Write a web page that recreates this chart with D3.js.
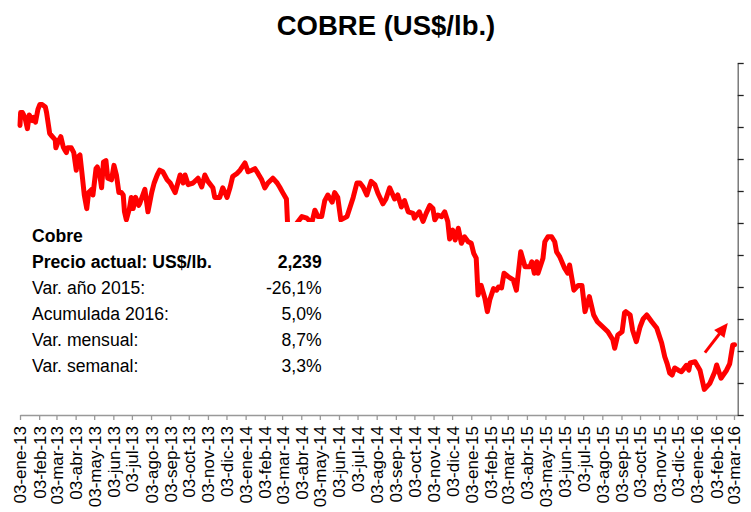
<!DOCTYPE html>
<html lang="es">

<head>
    <meta charset="UTF-8" />
    <title>Cobre (US$/lb.)</title>
    <script src="https://d3js.org/d3.v7.min.js"></script>
    <style>
        body { margin: 0; background: #fff; }
        svg { display: block; font-family: "Liberation Sans", Arial, sans-serif; }
    </style>
</head>

<body>
    <svg id="cobre-chart"></svg>
</body>

<script>
    // precio del cobre, US$/lb.
    var fechas = [
        "2013-01-03", "2013-01-04", "2013-01-07", "2013-01-11", "2013-01-15", "2013-01-18", "2013-01-23", "2013-01-25", "2013-01-28",
        "2013-02-01", "2013-02-04", "2013-02-08", "2013-02-13", "2013-02-15", "2013-02-20", "2013-02-22",
        "2013-03-01", "2013-03-02", "2013-03-06", "2013-03-10", "2013-03-14", "2013-03-16", "2013-03-19", "2013-03-21", "2013-03-27", "2013-03-31",
        "2013-04-04", "2013-04-06", "2013-04-10", "2013-04-13", "2013-04-17", "2013-04-21", "2013-04-24", "2013-04-29",
        "2013-05-01", "2013-05-06", "2013-05-08", "2013-05-12", "2013-05-15", "2013-05-18", "2013-05-22", "2013-05-25", "2013-05-31",
        "2013-06-04", "2013-06-08", "2013-06-12", "2013-06-16", "2013-06-19", "2013-06-21", "2013-06-24", "2013-06-29",
        "2013-07-02", "2013-07-05", "2013-07-09", "2013-07-14", "2013-07-16", "2013-07-24", "2013-07-29",
        "2013-08-04", "2013-08-08", "2013-08-13", "2013-08-17", "2013-08-22", "2013-08-29",
        "2013-09-03", "2013-09-11", "2013-09-19", "2013-09-24", "2013-09-27",
        "2013-10-02", "2013-10-10", "2013-10-18", "2013-10-24", "2013-10-29",
        "2013-11-03", "2013-11-11", "2013-11-14", "2013-11-22", "2013-11-27",
        "2013-12-04", "2013-12-09", "2013-12-13", "2013-12-20", "2013-12-25",
        "2014-01-02", "2014-01-07", "2014-01-13", "2014-01-18", "2014-01-23", "2014-01-29",
        "2014-02-03", "2014-02-08", "2014-02-16", "2014-02-23", "2014-02-27",
        "2014-03-04", "2014-03-10", "2014-03-12", "2014-03-17", "2014-03-20", "2014-03-25", "2014-03-27",
        "2014-04-04", "2014-04-12", "2014-04-20", "2014-04-25", "2014-04-30",
        "2014-05-06", "2014-05-11", "2014-05-16", "2014-05-23", "2014-05-27",
        "2014-06-01", "2014-06-06", "2014-06-16", "2014-06-21", "2014-06-26",
        "2014-07-02", "2014-07-07", "2014-07-12", "2014-07-18", "2014-07-25", "2014-07-31",
        "2014-08-05", "2014-08-13", "2014-08-18", "2014-08-24",
        "2014-09-01", "2014-09-06", "2014-09-12", "2014-09-17", "2014-09-23",
        "2014-10-01", "2014-10-03", "2014-10-11", "2014-10-17", "2014-10-22", "2014-10-28",
        "2014-11-02", "2014-11-05", "2014-11-10", "2014-11-16", "2014-11-21", "2014-11-26", "2014-11-29",
        "2014-12-04", "2014-12-08", "2014-12-13", "2014-12-18", "2014-12-23", "2014-12-29",
        "2015-01-03", "2015-01-07", "2015-01-11", "2015-01-14", "2015-01-19", "2015-01-25", "2015-01-29",
        "2015-02-02", "2015-02-08", "2015-02-13", "2015-02-16", "2015-02-21", "2015-02-25",
        "2015-03-04", "2015-03-12", "2015-03-17", "2015-03-24", "2015-03-31",
        "2015-04-08", "2015-04-11", "2015-04-15", "2015-04-19", "2015-04-21", "2015-04-29",
        "2015-05-02", "2015-05-07", "2015-05-13", "2015-05-18", "2015-05-21", "2015-05-26",
        "2015-06-03", "2015-06-08", "2015-06-11", "2015-06-18", "2015-06-25",
        "2015-07-01", "2015-07-06", "2015-07-13", "2015-07-20", "2015-07-26",
        "2015-08-04", "2015-08-12", "2015-08-20", "2015-08-23", "2015-08-28",
        "2015-09-04", "2015-09-08", "2015-09-10", "2015-09-17", "2015-09-21", "2015-09-27",
        "2015-10-03", "2015-10-08", "2015-10-14", "2015-10-22", "2015-10-30",
        "2015-11-07", "2015-11-12", "2015-11-16", "2015-11-20", "2015-11-24", "2015-11-28",
        "2015-12-04", "2015-12-09", "2015-12-13", "2015-12-17", "2015-12-21", "2015-12-23", "2015-12-31",
        "2016-01-08", "2016-01-15", "2016-01-24",
        "2016-02-01", "2016-02-04", "2016-02-11", "2016-02-20", "2016-02-25",
        "2016-03-01", "2016-03-04"
    ];

    var precios = [
        3.61, 3.69, 3.69, 3.66, 3.59, 3.675, 3.64, 3.66, 3.63,
        3.71, 3.74, 3.74, 3.725, 3.69, 3.56, 3.55,
        3.52, 3.47, 3.51, 3.54, 3.475, 3.46, 3.44, 3.47, 3.47, 3.44,
        3.33, 3.41, 3.425, 3.32, 3.175, 3.09, 3.19, 3.21,
        3.175, 3.34, 3.35, 3.30, 3.22, 3.38, 3.39, 3.28, 3.27,
        3.36, 3.30, 3.19, 3.19, 3.175, 3.07, 3.02, 3.09,
        3.16, 3.09, 3.16, 3.11, 3.125, 3.21, 3.07,
        3.19, 3.25, 3.30, 3.33, 3.32, 3.27,
        3.25, 3.19, 3.30, 3.25, 3.30,
        3.24, 3.25, 3.28, 3.225, 3.30,
        3.26, 3.22, 3.16, 3.16, 3.22,
        3.16, 3.225, 3.29, 3.31, 3.33,
        3.375, 3.32, 3.33, 3.34, 3.31, 3.27,
        3.22, 3.25, 3.28, 3.25, 3.225,
        3.19, 3.15, 2.98, 2.93, 2.92, 2.97, 3.00,
        3.04, 3.03, 3.00, 3.08, 3.04,
        3.04, 3.14, 3.175, 3.13, 3.19,
        3.16, 3.02, 3.04, 3.10, 3.16,
        3.25, 3.25, 3.225, 3.175, 3.26, 3.24,
        3.186, 3.12, 3.15, 3.22,
        3.15, 3.175, 3.10, 3.14, 3.07,
        3.06, 3.03, 3.07, 3.01, 3.06, 3.11,
        3.09, 3.02, 3.05, 3.04, 3.07, 3.01, 2.90,
        2.956, 2.894, 2.967, 2.873, 2.914, 2.883,
        2.873, 2.81, 2.78, 2.55, 2.61, 2.53, 2.446,
        2.52, 2.59, 2.58, 2.60, 2.594, 2.686,
        2.664, 2.644, 2.58, 2.82, 2.727,
        2.727, 2.758, 2.686, 2.758, 2.686, 2.78,
        2.883, 2.914, 2.914, 2.883, 2.82, 2.79,
        2.717, 2.686, 2.7375, 2.58, 2.61,
        2.61, 2.446, 2.54, 2.425, 2.383,
        2.35, 2.32, 2.27, 2.217, 2.30,
        2.32, 2.44, 2.446, 2.425, 2.33, 2.258,
        2.35, 2.40, 2.425, 2.383, 2.344,
        2.25, 2.164, 2.12, 2.0625, 2.05, 2.094,
        2.08, 2.07, 2.09, 2.11, 2.08, 2.125, 2.133,
        2.08, 1.96, 1.998,
        2.07, 2.1125, 2.03, 2.08, 2.12,
        2.2375, 2.239
    ];

    var mesesCortos = ["ene", "feb", "mar", "abr", "may", "jun", "jul", "ago", "sep", "oct", "nov", "dic"];
    var primerMes = "2013-01-03";
    var finEje = "2016-03-09";
    var yTicks = [1.8, 2.0, 2.2, 2.4, 2.6, 2.8, 3.0, 3.2, 3.4, 3.6, 3.8, 4.0];

    var resumenEtiquetas = ["Cobre", "Precio actual: US$/lb.", "Var. año 2015:", "Acumulada 2016:", "Var. mensual:", "Var. semanal:"];
    var resumenValores = ["", "2,239", "-26,1%", "5,0%", "8,7%", "3,3%"];
    var resumenNegrita = [true, true, false, false, false, false];

    var width = 751;
    var height = 512;
    var margin = { top: 63, right: 13.3, bottom: 97, left: 20 };

    var parse = d3.timeParse("%Y-%m-%d");
    var data = fechas.map((f, i) => ({ date: parse(f), v: precios[i] }));

    var svg = d3.select("#cobre-chart")
        .attr("width", width)
        .attr("height", height);

    var xScale = d3.scaleTime()
        .domain([parse(primerMes), parse(finEje)])
        .range([margin.left, width - margin.right]);

    var yScale = d3.scaleLinear()
        .domain([1.8, 4.0])
        .range([height - margin.bottom, margin.top]);

    // titulo
    svg.append("text")
        .attr("x", 386)
        .attr("y", 35)
        .attr("text-anchor", "middle")
        .style("font-size", "27.5px")
        .style("font-weight", "bold")
        .text("COBRE (US$/lb.)");

    // serie
    var line = d3.line()
        .x((d) => xScale(d.date))
        .y((d) => yScale(d.v));

    svg.append("path")
        .datum(data)
        .attr("d", line)
        .attr("fill", "none")
        .attr("stroke", "#ff0000")
        .attr("stroke-width", 5)
        .attr("stroke-linejoin", "round")
        .attr("stroke-linecap", "round");

    // recuadro de resumen (fondo blanco sobre la serie)
    svg.append("rect")
        .attr("x", 25)
        .attr("y", 222)
        .attr("width", 320)
        .attr("height", 160)
        .attr("fill", "#fff");

    var resumen = svg.append("g").style("font-size", "17.6px");
    resumenEtiquetas.forEach((t, i) => {
        resumen.append("text")
            .attr("x", 32)
            .attr("y", 242 + i * 26)
            .style("font-weight", resumenNegrita[i] ? "bold" : "normal")
            .text(t);
        resumen.append("text")
            .attr("x", 321.7)
            .attr("y", 242 + i * 26)
            .attr("text-anchor", "end")
            .style("font-weight", resumenNegrita[i] ? "bold" : "normal")
            .text(resumenValores[i]);
    });

    // flecha
    var p0 = [xScale(parse("2016-01-16")), yScale(2.19)];
    var p1 = [xScale(parse("2016-02-22")), yScale(2.375)];
    var ang = Math.atan2(p1[1] - p0[1], p1[0] - p0[0]);
    var hl = 14, hw = 6.5;
    var base = [p1[0] - hl * Math.cos(ang), p1[1] - hl * Math.sin(ang)];
    svg.append("line")
        .attr("x1", p0[0]).attr("y1", p0[1])
        .attr("x2", base[0] + 2 * Math.cos(ang)).attr("y2", base[1] + 2 * Math.sin(ang))
        .attr("stroke", "#ff0000")
        .attr("stroke-width", 3);
    svg.append("polygon")
        .attr("points", [
            p1,
            [base[0] + hw * Math.sin(ang), base[1] - hw * Math.cos(ang)],
            [base[0] - hw * Math.sin(ang), base[1] + hw * Math.cos(ang)]
        ].map((p) => p.join(",")).join(" "))
        .attr("fill", "#ff0000");

    // eje x
    var tickDates = d3.timeMonth.range(new Date(2013, 0, 1), new Date(2016, 3, 1))
        .map((d) => d3.timeDay.offset(d, 2));
    var fmtY = d3.timeFormat("%y");

    var xAxis = svg.append("g")
        .attr("transform", `translate(0,${height - margin.bottom})`)
        .call(d3.axisBottom(xScale)
            .tickValues(tickDates)
            .tickSize(5)
            .tickSizeOuter(0)
            .tickFormat((d) => "03-" + mesesCortos[d.getMonth()] + "-" + fmtY(d)));

    xAxis.select(".domain").attr("stroke", "#999").attr("stroke-width", 1.3);
    xAxis.selectAll(".tick line").attr("stroke", "#999").attr("stroke-width", 1.3);
    xAxis.selectAll(".tick text")
        .attr("transform", "rotate(-90)")
        .attr("text-anchor", "end")
        .attr("x", -11)
        .attr("y", 0)
        .attr("dy", "0.35em")
        .attr("fill", "#000")
        .style("font-size", "17px")
        .style("font-family", "'Liberation Sans', Arial, sans-serif");

    // eje y (derecha, sin etiquetas visibles)
    var yAxis = svg.append("g")
        .attr("transform", `translate(${width - margin.right},0)`)
        .call(d3.axisRight(yScale)
            .tickValues(yTicks)
            .tickSize(6)
            .tickSizeOuter(0)
            .tickFormat(""));

    yAxis.select(".domain").attr("stroke", "#666").attr("stroke-width", 1.3);
    yAxis.selectAll(".tick line").attr("stroke", "#222").attr("stroke-width", 1.3);
</script>

</html>
